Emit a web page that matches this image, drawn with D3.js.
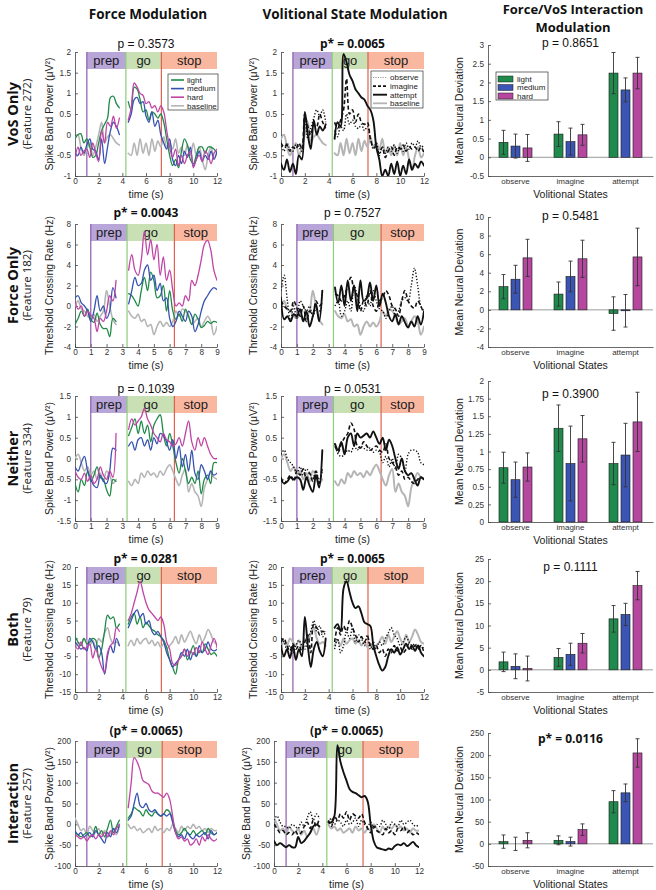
<!DOCTYPE html>
<html><head><meta charset="utf-8">
<script src="https://cdn.jsdelivr.net/npm/d3@7"></script>
<style>body{margin:0;background:#fff;}</style>
</head><body><svg id="c" width="656" height="890"></svg>
<script>
// ---------------- DATA ----------------
const rowNames = ["VoS Only","Force Only","Neither","Both","Interaction"];
const featureNames = ["(Feature 272)","(Feature 182)","(Feature 334)","(Feature 79)","(Feature 257)"];
const yLabels = ["Spike Band Power (μV²)","Threshold Crossing Rate (Hz)","Spike Band Power (μV²)","Threshold Crossing Rate (Hz)","Spike Band Power (μV²)"];
const pForce = ["p = 0.3573","p* = 0.0043","p = 0.1039","p* = 0.0281","(p* = 0.0065)"];
const pVol = ["p* = 0.0065","p = 0.7527","p = 0.0531","p* = 0.0065","(p* = 0.0065)"];
const pInter = ["p = 0.8651","p = 0.5481","p = 0.3900","p = 0.1111","p* = 0.0116"];
const phaseNames = ["prep","go","stop"];
const forceLevels = ["light","medium","hard"];
const volStates = ["observe","imagine","attempt"];

// x ticks
const xTicks12 = [0,2,4,6,8,10,12];
const xTicks9 = [0,1,2,3,4,5,6,7,8,9];
// y ticks (line panels)
const yTicksR1 = [-1,-0.5,0,0.5,1,1.5,2];
const yTicksR2 = [-4,-2,0,2,4,6,8];
const yTicksR3 = [-1.5,-1,-0.5,0,0.5,1,1.5];
const yTicksR4 = [-15,-10,-5,0,5,10,15,20];
const yTicksR5 = [-100,-50,0,50,100,150,200];
// phase onsets (s)
const phasesR1 = [1,4.3,7.3];
const phasesR2 = [1,3.3,6.3];
const phasesR3 = [1,3.3,6.3];
const phasesR4 = [1,4.3,7.3];
const phasesR5 = [1,4.37,7.37];

// Row 1 (sample step 0.25 s)
const r1Light = [-0.1,0,0.02,-0.2,-0.1,-0.3,-0.55,-0.5,-0.2,0.1,0.25,0.4,0.9,0.93,0.75,0.65,null,null,0.8,0.6,1.15,1.1,0.85,0.55,0.6,0.35,0.55,0.5,0.4,0.5,0.3,-0.1,-0.5,-0.75,-0.6,-0.8,-0.4,-0.1,-0.25,-0.6,-0.7,-0.5,-0.3,-0.3,-0.45,-0.3,-0.3,-0.35,-0.45];
const r1Medium = [-0.45,-0.5,-0.3,-0.45,-0.25,-0.1,-0.35,-0.4,-0.6,-0.1,-0.7,-0.3,0.1,0.3,0.2,0.0,null,null,0.3,0.5,0.85,0.9,0.75,0.8,0.45,0.3,0.55,0.2,0.35,0.0,-0.2,-0.35,-0.1,-0.6,-0.75,-0.5,-0.7,-0.4,-0.55,-0.3,-0.75,-0.6,-0.4,-0.65,-0.5,-0.6,-0.4,-0.6,-0.4];
const r1Hard = [-0.6,-0.3,-0.5,-0.4,-0.35,-0.55,-0.2,-0.45,-0.65,0.1,-0.2,0.3,0.2,0.45,0.15,0.4,null,null,0.35,0.65,1.25,1.15,1.0,0.95,0.75,0.8,0.65,0.7,0.55,0.7,0.55,0.1,-0.3,-0.55,-0.35,-0.75,-0.5,-0.7,-0.5,-0.4,-0.8,-0.6,-0.5,-0.65,-0.4,-0.5,-0.7,-0.45,-0.35];
const r1Base = [-0.1,0.0,-0.3,-0.5,-0.35,-0.2,-0.5,-0.3,0.0,0.3,-0.2,-0.05,0.0,-0.1,-0.2,-0.25,null,null,-0.45,-0.5,-0.2,-0.5,-0.1,-0.45,-0.2,-0.5,-0.1,-0.4,-0.15,-0.3,-0.05,-0.3,-0.2,-0.35,-0.1,-0.45,-0.3,-0.5,-0.25,-0.5,-0.2,-0.5,-0.3,-0.6,-0.85,-0.5,-0.3,-0.55,-0.45];
const r1Observe = [-0.2,-0.4,-0.2,-0.35,-0.4,-0.25,-0.3,-0.4,0.4,-0.1,0.15,0.4,0.6,0.45,0.6,0.3,null,null,0.1,-0.05,0.2,0.1,0.5,0.25,0.35,0.2,0.15,0.25,0.1,0.2,-0.1,-0.35,-0.2,-0.5,-0.3,-0.45,-0.3,-0.4,-0.25,-0.45,-0.3,-0.4,-0.2,-0.35,-0.2,-0.3,-0.15,-0.3,-0.25];
const r1Imagine = [-0.2,-0.3,-0.25,-0.4,-0.3,-0.35,-0.2,-0.35,0.5,0.2,0.0,0.25,0.2,0.5,0.3,0.15,null,null,0.3,0.15,0.35,0.6,1.35,0.5,0.6,0.3,0.5,0.3,0.25,0.3,-0.1,-0.3,-0.3,-0.45,-0.3,-0.55,-0.4,-0.3,-0.5,-0.3,-0.35,-0.25,-0.4,-0.3,-0.35,-0.3,-0.4,-0.3,-0.45];
const r1Attempt = [-0.7,-0.85,-0.6,-0.9,-0.7,-0.95,-0.5,-0.6,0.55,0.0,-0.35,0.35,0.0,0.2,0.1,0.25,null,null,-0.1,0.3,0.2,1.95,1.75,1.45,1.3,1.1,1.0,0.9,0.85,0.7,0.6,0.35,-0.3,-0.6,-1.0,-0.85,-1.0,-0.7,-0.95,-0.65,-1.0,-0.75,-0.95,-0.6,-0.85,-0.7,-0.8,-0.65,-0.75];

// Row 2 (sample step 0.2 s)
const r2Light = [-1.8,-1.2,-0.5,-1.0,-0.3,-1.3,-1.6,-0.7,-1.8,-2.2,-2.2,-3.0,-1.2,-1.5,null,null,null,1.2,1.0,0.5,0.0,1.5,2.8,1.5,3.3,2.5,0.8,1.0,2.0,-0.5,1.5,-0.5,-1.3,-0.8,-1.5,-0.3,-1.0,-1.8,-0.8,-1.3,-2.1,-1.9,-1.5,-1.7,-1.5,-1.6];
const r2Medium = [0.8,1.0,0.3,0.0,-0.5,-1.5,-0.5,1.0,-0.5,0.0,-1.2,-0.5,1.8,0.8,null,null,null,0.2,1.5,2.8,2.0,2.2,3.5,4.0,2.5,3.0,1.5,2.2,0.5,0.8,-1.2,-2.0,-1.5,-0.5,-1.0,-1.5,-0.5,-1.0,-2.5,-1.8,-0.5,0.5,1.0,1.5,1.8,1.6];
const r2Hard = [0.5,-0.3,0.0,-1.0,-0.5,-0.9,-1.2,-2.5,-1.2,-1.5,-0.5,1.0,0.5,2.5,null,null,null,3.5,5.0,3.5,3.0,4.5,7.3,5.0,6.5,4.5,6.0,3.0,4.8,2.5,3.5,1.5,0.0,0.3,0.0,1.0,0.5,2.5,2.0,3.0,4.5,6.0,6.4,5.5,3.5,2.5];
const r2Base = [0.0,0.5,-0.3,-0.5,-1.0,-1.2,-0.8,-1.5,-1.0,-0.5,1.5,0.0,-1.3,-1.8,null,null,null,-0.5,-1.0,-1.2,-0.8,-1.5,-1.3,-2.0,-1.8,-2.8,-2.0,-1.5,-2.0,-1.6,-2.0,-1.5,-0.5,-1.0,-0.3,-0.5,-1.0,-1.8,-1.5,-1.2,-2.0,-1.5,-1.0,-1.5,-2.8,-2.0];
const r2Observe = [1.5,3.0,0.5,-1.5,0.0,-1.3,0.5,0.0,-0.5,0.0,-1.0,-0.3,-0.5,0.0,null,null,null,0.0,0.5,-1.0,-0.5,0.5,-0.5,2.0,1.0,0.0,-0.5,1.0,0.0,1.5,0.5,-0.3,-0.5,-1.2,-0.5,0.0,-1.0,-0.5,0.5,0.8,0.5,2.0,3.7,2.0,0.0,-0.5];
const r2Imagine = [0.5,0.0,-0.3,-0.5,0.5,-0.2,-1.0,0.0,-1.5,-0.5,-0.8,0.5,0.0,0.3,null,null,null,1.2,1.0,0.5,1.0,2.0,2.8,1.5,1.0,-0.5,0.5,0.0,1.5,0.0,-0.5,0.5,0.8,1.5,1.0,0.0,-0.3,-1.0,0.5,1.5,0.5,0.0,-0.2,0.5,0.0,-0.8];
const r2Attempt = [0.8,-1.3,-1.0,-1.5,-0.8,-1.0,-0.3,-1.5,-0.5,-2.0,-1.0,0.2,-1.5,1.5,null,null,null,1.8,0.3,2.0,0.0,2.5,0.5,2.0,-0.5,2.5,0.5,0.8,2.3,0.5,2.0,0.0,1.2,0.3,-1.0,-1.5,-0.8,-1.8,-1.0,-1.6,-2.1,-1.5,-2.0,-1.0,-1.8,-0.5];

// Row 3 (sample step 0.2 s)
const r3Light = [-0.6,-0.8,-0.5,-0.65,-0.3,-0.55,-0.4,-0.2,-0.45,-0.5,-0.75,-0.9,-0.5,-0.55,null,null,null,0.55,0.75,0.95,0.6,0.9,0.6,0.8,0.4,0.8,0.95,1.05,0.6,0.3,0.6,0.3,-0.1,-0.35,0.0,-0.3,-0.6,-0.45,-0.6,-0.3,-0.85,-0.5,-0.4,-0.6,-0.1,-0.1];
const r3Medium = [-0.2,-0.3,-0.1,0.05,-0.3,-0.5,-0.65,-0.7,-0.4,-0.55,-0.6,-0.3,0.25,0.2,null,null,null,0.3,0.4,0.2,0.45,0.5,0.3,0.45,0.2,0.5,0.35,0.6,0.55,0.4,0.2,0.45,0.0,0.3,-0.2,0.1,-0.3,0.2,-0.35,-0.5,-0.15,-0.3,-0.5,-0.3,-0.4,-0.35];
const r3Hard = [-0.3,-0.45,-0.5,-0.35,-0.55,-0.4,-0.6,-0.5,-0.2,-0.4,-0.5,-0.3,-0.45,0.6,null,null,null,0.7,0.95,0.8,0.9,1.0,1.2,0.95,0.8,0.6,0.5,0.4,0.6,0.45,0.4,0.3,0.35,0.5,0.3,0.6,0.9,0.4,0.2,0.5,0.3,0.5,0.3,0.1,0.0,0.0];
const r3Base = [0.0,0.1,-0.1,-0.3,-0.2,-0.4,-0.3,-0.5,-0.35,-0.55,-0.3,-0.4,-0.6,-0.5,null,null,null,-0.55,-0.65,-0.5,-0.6,-0.35,-0.45,-0.3,-0.4,-0.35,-0.45,-0.3,-0.4,-0.25,-0.15,-0.3,-0.5,-0.65,-0.4,-0.25,-0.8,-0.6,-0.8,-0.9,-1.15,-0.7,-0.5,-0.35,-0.45,-0.5];
const r3Observe = [0.1,0.2,0.0,-0.1,-0.2,-0.35,-0.2,-0.4,-0.25,-0.35,-0.5,-0.3,-0.55,-0.3,null,null,null,0.35,0.1,0.05,0.1,0.2,0.15,0.3,0.2,0.3,0.25,0.2,0.25,0.15,0.2,0.15,-0.1,0.05,-0.2,0.0,-0.25,0.1,0.0,-0.3,0.1,0.2,0.2,0.15,-0.1,-0.15];
const r3Imagine = [-0.45,-0.6,-0.5,-0.4,-0.55,-0.3,-0.4,-0.25,-0.5,-0.35,-0.55,-0.3,-0.6,-0.2,null,null,null,0.3,0.15,0.35,0.5,0.6,0.85,0.7,0.3,0.25,0.4,0.3,0.2,0.25,0.3,0.2,0.15,0.35,0.0,-0.1,-0.2,-0.4,-0.3,-0.5,-0.45,-0.55,-0.6,-0.5,-0.45,-0.5];
const r3Attempt = [-0.5,-0.6,-0.55,-0.45,-0.5,-0.45,-0.5,-0.75,-0.45,-0.65,-0.8,-0.4,-0.7,0.2,null,null,null,0.35,0.2,0.4,0.1,0.5,0.6,0.3,0.6,0.5,0.55,0.6,0.5,0.65,0.5,0.35,0.5,0.2,0.45,0.3,0.0,-0.25,0.0,-0.3,-0.4,-0.35,-0.5,-0.65,-0.45,-0.5];

// Row 4 (sample step 0.25 s)
const r4Light = [0.5,-1.0,-2.0,0.0,-1.5,-1.0,0.0,-0.5,-5.5,-3.0,2.0,6.5,5.5,6.0,3.0,4.0,null,null,4.0,6.0,7.0,4.0,6.0,3.0,4.5,3.5,2.5,2.0,1.0,0.5,-0.5,-2.5,-6.0,-8.0,-10.0,-6.0,-5.0,-3.0,-6.0,-4.0,-2.0,-5.0,-3.5,-4.0,-1.5,-3.0,-4.5,-4.0,-5.0];
const r4Medium = [-1.0,-2.0,-3.0,-2.5,-3.5,0.0,-1.0,-3.0,-2.0,-4.0,-10.0,-5.0,-2.0,-4.0,0.0,-2.0,null,null,3.0,5.0,7.0,8.0,6.0,7.0,4.0,5.0,2.0,1.0,2.0,0.5,-1.0,-4.0,-6.0,-8.0,-7.0,-6.0,-4.0,-5.0,-3.0,-6.0,-4.0,-5.0,-2.0,-4.0,-3.0,-1.0,-3.0,-3.5,-3.0];
const r4Hard = [-2.0,-3.0,-1.0,-3.0,-2.5,-1.5,-5.5,-3.0,-5.5,-8.0,-9.5,-4.0,-2.0,-1.0,3.0,2.0,null,null,5.0,7.0,10.0,13.0,16.0,13.0,10.0,8.0,7.0,6.0,5.0,6.0,4.0,-1.0,-3.0,-7.0,-7.5,-6.0,-5.0,-3.0,-5.0,-3.5,-4.5,-2.5,-4.0,-1.0,-3.0,-4.5,-2.0,0.0,-2.5];
const r4Base = [-3.0,-1.0,-2.0,0.0,-1.0,-2.0,-0.5,-2.5,0.0,-1.0,1.5,3.0,0.0,-1.5,-1.0,-2.0,null,null,-2.0,-0.5,-2.0,0.0,-1.5,-0.5,0.0,-1.5,-0.5,-2.0,-1.0,-2.5,-1.5,-3.0,-2.0,-1.0,0.5,-1.5,1.0,-1.0,0.5,2.0,0.0,-1.5,1.0,-1.0,0.5,2.5,1.0,-1.0,-1.5];
const r4Observe = [0.0,-1.0,-3.0,-2.0,-4.0,-2.0,-0.5,-2.0,-3.0,0.0,2.0,5.0,2.0,3.5,0.5,2.0,null,null,-3.0,0.0,-4.0,-2.0,2.0,0.0,3.0,-1.0,1.0,0.0,-2.0,1.0,-3.0,-1.0,-3.0,-1.0,-2.0,0.0,1.5,3.0,1.0,0.0,-2.0,-1.0,0.5,-1.0,-2.0,-1.5,-3.0,-2.0,-3.0];
const r4Imagine = [-1.0,0.0,-2.0,-3.5,-1.5,-3.0,-2.0,-3.5,-1.0,1.0,-4.0,4.0,3.0,1.0,2.0,1.5,null,null,-1.0,3.0,1.0,3.5,2.0,5.0,3.0,1.0,-1.0,0.5,-1.0,0.5,-2.0,-3.0,-2.0,-4.0,-3.0,-5.0,-3.0,-4.0,-2.0,-3.5,-2.5,-4.0,-3.0,-1.5,-3.0,-2.0,-3.0,-2.0,-4.0];
const r4Attempt = [-2.0,-5.0,-3.0,-5.5,-2.0,-6.0,-3.0,-5.0,6.0,-2.0,-8.0,-3.0,-1.0,-3.5,-5.0,0.0,null,null,3.0,4.0,2.0,14.0,16.0,13.0,10.0,8.5,9.0,7.0,4.5,4.0,3.5,-2.0,-5.0,-7.5,-9.0,-8.0,-5.0,-3.0,-4.0,-2.5,-4.5,-3.0,-1.5,-3.0,-2.0,-3.5,-2.0,-4.0,-5.0];

// Row 5 (sample step 0.25 s)
const r5Light = [-20,-25,-30,-25,-20,-30,-25,-5,-25,-15,-30,-10,10,-20,-5,10,null,null,15,25,40,35,30,20,35,25,20,30,25,20,25,35,30,10,-15,-25,-20,-10,-20,-25,-15,-25,-20,-15,-25,-10,-20,-25,-20];
const r5Medium = [-15,-25,-20,-30,-25,-20,-30,-15,-25,-35,-45,-20,-30,-10,-20,0,null,null,10,20,50,75,45,40,50,35,30,35,25,20,25,20,25,5,-20,-30,-25,-35,-20,-30,-35,-25,-30,-25,-20,-35,-15,-25,-20];
const r5Hard = [-25,-30,-35,-30,-40,-30,-25,-35,-25,-30,-20,-30,-15,-25,-10,0,null,null,40,100,160,150,130,105,100,95,80,75,75,70,65,75,60,20,-20,-35,-30,-40,-35,-50,-45,-35,-50,-30,-40,-25,-35,-40,-35];
const r5Base = [15,0,-15,-10,-25,-5,-15,-20,-10,-25,-15,-30,-20,-10,-25,-5,null,null,0,-10,-5,-15,-10,-20,-15,-10,-20,-5,-15,-10,-20,-10,-15,0,-10,-20,-5,-15,-5,-10,0,-10,-5,-15,-10,-20,-10,-15,-15];
const r5Observe = [10,20,5,-5,-5,-10,0,-5,-10,5,-5,15,30,10,25,15,null,null,5,15,0,10,5,-5,10,0,5,15,-5,10,0,-5,5,-10,0,-5,10,0,-10,5,0,-5,10,0,5,10,0,-5,0];
const r5Imagine = [0,-10,-20,-15,-25,-20,-25,-15,-25,-20,-5,5,-10,10,-5,15,null,null,10,-5,20,10,25,15,30,10,25,20,15,25,5,-10,-20,-5,-15,-20,-25,-10,-20,-15,-25,-10,-15,-5,-20,-15,-25,-20,-25];
const r5Attempt = [-40,-50,-45,-50,-55,-50,-55,-55,-30,-45,-40,-30,-20,-5,0,-5,null,null,5,5,20,190,150,125,105,85,78,75,70,65,68,55,0,-40,-55,-58,-60,-62,-58,-60,-52,-48,-50,-45,-52,-48,-42,-50,-55];

// Bar charts: means and error half-widths [observe, imagine, attempt] x [light, medium, hard]
const b1Mean = [[0.4,0.3,0.25],[0.62,0.42,0.6],[2.25,1.8,2.25]];
const b1Err  = [[0.32,0.32,0.36],[0.33,0.36,0.28],[0.55,0.32,0.42]];
const b2Mean = [[2.5,3.3,5.6],[1.7,3.6,5.5],[-0.4,-0.1,5.7]];
const b2Err  = [[1.3,1.5,2.0],[1.3,1.65,2.0],[1.8,1.75,3.1]];
const b3Mean = [[0.77,0.6,0.78],[1.33,0.83,1.18],[0.83,0.95,1.42]];
const b3Err  = [[0.22,0.25,0.2],[0.33,0.53,0.33],[0.3,0.45,0.42]];
const b4Mean = [[1.8,0.8,0.3],[2.8,3.5,6.0],[11.5,12.5,19.0]];
const b4Err  = [[2.2,2.8,2.8],[2.0,2.5,2.2],[3.0,2.5,3.2]];
const b5Mean = [[5,0,8],[8,5,32],[95,115,205]];
const b5Err  = [[15,15,17],[10,10,13],[25,20,32]];
const bTicks1 = [-0.5,0,0.5,1,1.5,2,2.5,3];
const bTicks2 = [-4,-2,0,2,4,6,8,10];
const bTicks3 = [0,0.25,0.5,0.75,1,1.25,1.5,1.75,2];
const bTicks4 = [-5,0,5,10,15,20,25];
const bTicks5 = [-50,0,50,100,150,200,250];

// ---------------- DRAWING ----------------
const svg = d3.select("#c");
const FONT = '"Liberation Sans", Arial, sans-serif';
const TFONT = '"Open Sans", "Noto Sans", sans-serif';
const forceColor = {light:"#1f8a48", medium:"#3552b0", hard:"#c044a6", baseline:"#b5b5b5"};
const barFill = {light:"#1f8a4c", medium:"#3b55b5", hard:"#b5479f"};
const bandFill = ["#b9a6d9","#c9e0b5","#f9b7a0"];
const vlineColor = ["#8e5aa8","#8ccc78","#e0604e"];
let clipId = 0;

function fmt(d){ return String(d); }

function linePanel(o){
  const x = d3.scaleLinear().domain([0,o.xmax]).range([o.x0,o.x1]);
  const y = d3.scaleLinear().domain(o.ydom).range([o.y1,o.y0]);
  const g = svg.append("g");
  const bandH = 17;
  const edges = [o.ph[0],o.ph[1],o.ph[2],o.xmax];
  for(let i=0;i<3;i++){
    g.append("rect").attr("x",x(edges[i])).attr("y",o.y0).attr("width",x(edges[i+1])-x(edges[i])).attr("height",bandH).attr("fill",bandFill[i]);
    g.append("text").attr("x",(x(edges[i])+x(edges[i+1]))/2).attr("y",o.y0+bandH/2+4.6)
      .attr("text-anchor","middle").attr("font-family",FONT).attr("font-size",13).attr("fill","#1a1a1a").text(phaseNames[i]);
  }
  const ax = g.append("g").attr("transform",`translate(0,${o.y1})`)
    .call(d3.axisBottom(x).tickValues(o.xticks).tickSize(-3).tickSizeOuter(0).tickPadding(2).tickFormat(fmt));
  const ay = g.append("g").attr("transform",`translate(${o.x0},0)`)
    .call(d3.axisLeft(y).tickValues(o.yticks).tickSize(-3).tickSizeOuter(0).tickPadding(4).tickFormat(fmt));
  [ax,ay].forEach(a=>{ a.selectAll("text").attr("font-family",FONT).attr("font-size",8.2).attr("fill","#333");
    a.selectAll("line,path").attr("stroke","#444").attr("stroke-width",0.8); });
  for(let i=0;i<3;i++){
    g.append("line").attr("x1",x(o.ph[i])).attr("x2",x(o.ph[i])).attr("y1",o.y0).attr("y2",o.y1)
      .attr("stroke",vlineColor[i]).attr("stroke-width",1.2);
  }
  const cid = "clip"+(clipId++);
  svg.append("clipPath").attr("id",cid).append("rect").attr("x",o.x0).attr("y",o.y0-4).attr("width",o.x1-o.x0).attr("height",o.y1-o.y0+4);
  const t = d3.range(o.series[0].v.length).map(i=>i*o.dt);
  const line = d3.line().defined(d=>d[1]!=null).x(d=>x(d[0])).y(d=>y(d[1])).curve(d3.curveCatmullRom.alpha(0.5));
  const dg = g.append("g").attr("clip-path",`url(#${cid})`);
  o.series.forEach(s=>{
    dg.append("path").attr("d",line(s.v.map((v,i)=>[t[i],v]))).attr("fill","none")
      .attr("stroke",s.c).attr("stroke-width",s.w).attr("stroke-dasharray",s.dash||null)
      .attr("stroke-linejoin","round").attr("stroke-linecap",s.dash?"butt":"round");
  });
  g.append("text").attr("x",(o.x0+o.x1)/2).attr("y",o.y1+22).attr("text-anchor","middle")
    .attr("font-family",FONT).attr("font-size",10.5).attr("fill","#222").text("time (s)");
  g.append("text").attr("transform",`translate(${o.ylx},${(o.y0+o.y1)/2}) rotate(-90)`).attr("text-anchor","middle")
    .attr("font-family",FONT).attr("font-size",10.5).attr("fill","#222").text(o.ylabel);
  const bold = o.ptext.includes("*");
  g.append("text").attr("x",(o.x0+o.x1)/2).attr("y",o.py).attr("text-anchor","middle")
    .attr("font-family",bold?TFONT:FONT).attr("font-weight",bold?"bold":"normal").attr("font-size",12).attr("fill","#111").text(o.ptext);
  return {x,y,g};
}

function barPanel(o){
  const xb = d3.scaleBand().domain(volStates).range([o.x0,o.x1]);
  const xi = d3.scaleBand().domain(forceLevels).range([-18,18]).paddingInner(0.25).paddingOuter(0.125);
  const y = d3.scaleLinear().domain([o.yticks[0],o.yticks[o.yticks.length-1]]).range([o.y1,o.y0]);
  const g = svg.append("g");
  if(y.domain()[0] < 0){
    g.append("line").attr("x1",o.x0).attr("x2",o.x1).attr("y1",y(0)).attr("y2",y(0)).attr("stroke","#9a9a9a").attr("stroke-width",1);
  }
  volStates.forEach((vs,i)=>{
    forceLevels.forEach((f,j)=>{
      const cx = xb(vs)+xb.bandwidth()/2 + xi(f);
      const m = o.mean[i][j], e = o.err[i][j];
      g.append("rect").attr("x",cx).attr("width",xi.bandwidth()).attr("y",Math.min(y(m),y(0))).attr("height",Math.abs(y(m)-y(0)))
        .attr("fill",barFill[f]).attr("stroke","#1a1a1a").attr("stroke-width",0.6);
      const mx = cx + xi.bandwidth()/2;
      g.append("line").attr("x1",mx).attr("x2",mx).attr("y1",y(m-e)).attr("y2",y(m+e)).attr("stroke","#333").attr("stroke-width",0.9);
      [m-e,m+e].forEach(v=>g.append("line").attr("x1",mx-2).attr("x2",mx+2).attr("y1",y(v)).attr("y2",y(v)).attr("stroke","#333").attr("stroke-width",0.9));
    });
  });
  const ay = g.append("g").attr("transform",`translate(${o.x0},0)`)
    .call(d3.axisLeft(y).tickValues(o.yticks).tickSize(-3).tickSizeOuter(0).tickPadding(4).tickFormat(fmt));
  const ax = g.append("g").attr("transform",`translate(0,${o.y1})`)
    .call(d3.axisBottom(xb).tickSize(0).tickSizeOuter(0).tickPadding(2));
  [ax,ay].forEach(a=>{ a.selectAll("text").attr("font-family",FONT).attr("font-size",8.2).attr("fill","#333");
    a.selectAll("line,path").attr("stroke","#444").attr("stroke-width",0.8); });
  ax.selectAll("text").attr("font-size",8);
  g.append("text").attr("x",(o.x0+o.x1)/2).attr("y",o.y1+22).attr("text-anchor","middle")
    .attr("font-family",FONT).attr("font-size",10.5).attr("fill","#222").text("Volitional States");
  g.append("text").attr("transform",`translate(${o.ylx},${(o.y0+o.y1)/2}) rotate(-90)`).attr("text-anchor","middle")
    .attr("font-family",FONT).attr("font-size",10.5).attr("fill","#222").text("Mean Neural Deviation");
  const bold = o.ptext.includes("*");
  g.append("text").attr("x",(o.x0+o.x1)/2).attr("y",o.py).attr("text-anchor","middle")
    .attr("font-family",bold?TFONT:FONT).attr("font-weight",bold?"bold":"normal").attr("font-size",12).attr("fill","#111").text(o.ptext);
  return g;
}

const forceSeries = (L,M,Hd,B)=>[
  {v:B,c:forceColor.baseline,w:1.6},
  {v:L,c:forceColor.light,w:1.3},
  {v:M,c:forceColor.medium,w:1.3},
  {v:Hd,c:forceColor.hard,w:1.3}];
const volSeries = (O,I,A,B)=>[
  {v:B,c:"#b5b5b5",w:2},
  {v:O,c:"#111",w:1.4,dash:"1.3,1.8"},
  {v:I,c:"#111",w:1.6,dash:"4,2.5"},
  {v:A,c:"#111",w:1.9}];

const rowsCfg = [
  {y0:52,y1:176,xmax:12,dt:0.25,xt:xTicks12,yt:yTicksR1,ph:phasesR1,F:[r1Light,r1Medium,r1Hard,r1Base],V:[r1Observe,r1Imagine,r1Attempt,r1Base],
   bm:b1Mean,be:b1Err,bt:bTicks1,by0:45,by1:176,vx0:281,vx1:424,pf:48,pb:47},
  {y0:224,y1:347,xmax:9,dt:0.2,xt:xTicks9,yt:yTicksR2,ph:phasesR2,F:[r2Light,r2Medium,r2Hard,r2Base],V:[r2Observe,r2Imagine,r2Attempt,r2Base],
   bm:b2Mean,be:b2Err,bt:bTicks2,by0:217,by1:347,vx0:281,vx1:424,pf:217,pb:220},
  {y0:396,y1:521,xmax:9,dt:0.2,xt:xTicks9,yt:yTicksR3,ph:phasesR3,F:[r3Light,r3Medium,r3Hard,r3Base],V:[r3Observe,r3Imagine,r3Attempt,r3Base],
   bm:b3Mean,be:b3Err,bt:bTicks3,by0:381,by1:522,vx0:281,vx1:424,pf:393,pb:398},
  {y0:567,y1:692,xmax:12,dt:0.25,xt:xTicks12,yt:yTicksR4,ph:phasesR4,F:[r4Light,r4Medium,r4Hard,r4Base],V:[r4Observe,r4Imagine,r4Attempt,r4Base],
   bm:b4Mean,be:b4Err,bt:bTicks4,by0:559,by1:692,vx0:281,vx1:424,pf:563,pb:571},
  {y0:741,y1:866,xmax:12,dt:0.25,xt:xTicks12,yt:yTicksR5,ph:phasesR5,F:[r5Light,r5Medium,r5Hard,r5Base],V:[r5Observe,r5Imagine,r5Attempt,r5Base],
   bm:b5Mean,be:b5Err,bt:bTicks5,by0:733,by1:866,vx0:274,vx1:419,pf:735,pb:743}
];

rowsCfg.forEach((r,i)=>{
  linePanel({x0:75,x1:217,y0:r.y0,y1:r.y1,xmax:r.xmax,dt:r.dt,xticks:r.xt,yticks:r.yt,ydom:[r.yt[0],r.yt[r.yt.length-1]],
    ph:r.ph,series:forceSeries(...r.F),ylabel:yLabels[i],ylx:53,ptext:pForce[i],py:r.pf});
  linePanel({x0:r.vx0,x1:r.vx1,y0:r.y0,y1:r.y1,xmax:r.xmax,dt:r.dt,xticks:r.xt,yticks:r.yt,ydom:[r.yt[0],r.yt[r.yt.length-1]],
    ph:r.ph,series:volSeries(...r.V),ylabel:yLabels[i],ylx:r.vx0-24,ptext:pVol[i],py:r.pf});
  barPanel({x0:488,x1:653,y0:r.by0,y1:r.by1,mean:r.bm,err:r.be,yticks:r.bt,ylx:463,ptext:pInter[i],py:r.pb});
  const cy = (r.y0+r.y1)/2;
  svg.append("text").attr("transform",`translate(18,${cy}) rotate(-90)`).attr("text-anchor","middle")
    .attr("font-family",TFONT).attr("font-weight","bold").attr("font-size",14.5).attr("fill","#111").text(rowNames[i]);
  svg.append("text").attr("transform",`translate(31,${cy}) rotate(-90)`).attr("text-anchor","middle")
    .attr("font-family",TFONT).attr("font-size",11.5).attr("fill","#222").text(featureNames[i]);
});

// column titles
svg.append("text").attr("x",148).attr("y",19).attr("text-anchor","middle").attr("font-family",TFONT).attr("font-weight","bold").attr("font-size",13.5).attr("fill","#111").text("Force Modulation");
svg.append("text").attr("x",355).attr("y",19).attr("text-anchor","middle").attr("font-family",TFONT).attr("font-weight","bold").attr("font-size",13.5).attr("fill","#111").text("Volitional State Modulation");
svg.append("text").attr("x",573).attr("y",14).attr("text-anchor","middle").attr("font-family",TFONT).attr("font-weight","bold").attr("font-size",13).attr("fill","#111").text("Force/VoS Interaction");
svg.append("text").attr("x",573).attr("y",32).attr("text-anchor","middle").attr("font-family",TFONT).attr("font-weight","bold").attr("font-size",13).attr("fill","#111").text("Modulation");

// legends
function legendBox(x,y,w,h){ svg.append("rect").attr("x",x).attr("y",y).attr("width",w).attr("height",h).attr("fill","#fff").attr("stroke","#333").attr("stroke-width",0.7); }
legendBox(168,74,50,36);
const forceLeg = ["light","medium","hard","baseline"];
forceLeg.forEach((k,i)=>{
  const yy = 80 + i*8.6;
  svg.append("line").attr("x1",171).attr("x2",184).attr("y1",yy).attr("y2",yy).attr("stroke",forceColor[k]).attr("stroke-width",1.6);
  svg.append("text").attr("x",187).attr("y",yy+2.8).attr("font-family",FONT).attr("font-size",8).attr("fill","#222").text(k);
});
legendBox(371,71,52,37);
const volLeg = [["observe","#999","1.2,1.2",1],["imagine","#111","3,2",1.6],["attempt","#111",null,1.9],["baseline","#b5b5b5",null,1.8]];
volLeg.forEach((k,i)=>{
  const yy = 77.5 + i*8.6;
  svg.append("line").attr("x1",373).attr("x2",387).attr("y1",yy).attr("y2",yy).attr("stroke",k[1]).attr("stroke-width",k[3]).attr("stroke-dasharray",k[2]);
  svg.append("text").attr("x",390).attr("y",yy+2.8).attr("font-family",FONT).attr("font-size",8).attr("fill","#222").text(k[0]);
});
legendBox(496,72,52,28);
forceLevels.forEach((k,i)=>{
  const yy = 79 + i*8.5;
  svg.append("rect").attr("x",498).attr("y",yy-3).attr("width",15).attr("height",6).attr("fill",barFill[k]).attr("stroke","#1a1a1a").attr("stroke-width",0.5);
  svg.append("text").attr("x",517).attr("y",yy+2.8).attr("font-family",FONT).attr("font-size",8).attr("fill","#222").text(k);
});
</script></body></html>
